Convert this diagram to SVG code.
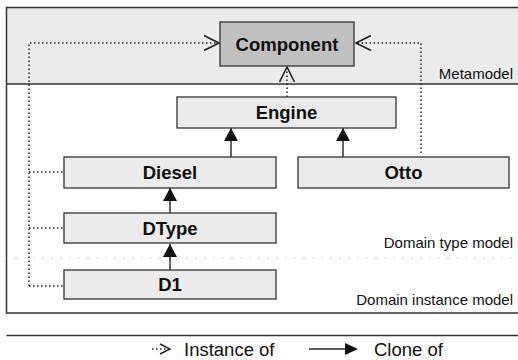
<svg xmlns="http://www.w3.org/2000/svg" width="518" height="360" viewBox="0 0 518 360">
<style>
.box{fill:#ebebeb;stroke:#333;stroke-width:1.3}
.comp{fill:#c0c0c0;stroke:#333;stroke-width:1.3}
.lbl{font-family:"Liberation Sans",Arial,sans-serif;font-weight:bold;font-size:18.5px;fill:#111;text-anchor:middle}
.side{font-family:"Liberation Sans",Arial,sans-serif;font-size:15px;fill:#111;text-anchor:end}
.leg{font-family:"Liberation Sans",Arial,sans-serif;font-size:18.5px;fill:#111}
.inst{fill:none;stroke:#222;stroke-width:1.5;stroke-dasharray:1.5 2.5}
.clone{fill:none;stroke:#222;stroke-width:1.4}
.frame{fill:none;stroke:#333;stroke-width:1.5}
</style>
<defs>
<marker id="open" markerUnits="userSpaceOnUse" markerWidth="18" markerHeight="18" refX="15" refY="8" orient="auto" viewBox="0 0 18 18">
<path d="M0,0.5 L15,8 L0,15.5" fill="none" stroke="#222" stroke-width="1.6"/>
</marker>
<marker id="filled" markerUnits="userSpaceOnUse" markerWidth="16" markerHeight="16" refX="13" refY="7" orient="auto" viewBox="0 0 16 16">
<path d="M0,0 L13,7 L0,14 z" fill="#111"/>
</marker>
</defs>
<rect x="6.5" y="7.5" width="512" height="76.5" fill="#ebebeb"/>
<path class="frame" d="M518,7.5 H6.5 V313 H518"/>
<line x1="6.5" y1="84" x2="518" y2="84" stroke="#333" stroke-width="1.5"/>
<line x1="6.5" y1="258" x2="518" y2="258" stroke="#aaa" stroke-width="1" stroke-dasharray="1 8"/>
<text class="side" x="513" y="79">Metamodel</text>
<text class="side" x="513" y="248">Domain type model</text>
<text class="side" x="513" y="305">Domain instance model</text>
<g id="connectors">
<polyline class="inst" points="29,286 29,43 219,43" marker-end="url(#open)"/>
<line class="inst" x1="29" y1="172" x2="64" y2="172"/>
<line class="inst" x1="29" y1="228" x2="64" y2="228"/>
<line class="inst" x1="29" y1="286" x2="64" y2="286"/>
<polyline class="inst" points="421,153 421,43 356,43" marker-end="url(#open)"/>
<line class="inst" x1="287" y1="97" x2="287" y2="67" marker-end="url(#open)"/>
<line class="clone" x1="231" y1="157" x2="231" y2="128" marker-end="url(#filled)"/>
<line class="clone" x1="343" y1="157" x2="343" y2="128" marker-end="url(#filled)"/>
<line class="clone" x1="170" y1="213" x2="170" y2="188" marker-end="url(#filled)"/>
<line class="clone" x1="170" y1="270" x2="170" y2="244" marker-end="url(#filled)"/>
</g>
<g id="component"><rect class="comp" x="220" y="22" width="134" height="44"/><text class="lbl" x="287" y="50.5">Component</text></g>
<g id="engine"><rect class="box" x="177" y="97" width="219" height="31"/><text class="lbl" x="286.5" y="119">Engine</text></g>
<g id="diesel"><rect class="box" x="64" y="157" width="212" height="31"/><text class="lbl" x="170" y="179">Diesel</text></g>
<g id="otto"><rect class="box" x="298" y="157" width="211" height="31"/><text class="lbl" x="403.5" y="179">Otto</text></g>
<g id="dtype"><rect class="box" x="64" y="213" width="212" height="30"/><text class="lbl" x="170" y="234.5">DType</text></g>
<g id="d1"><rect class="box" x="64" y="270" width="212" height="29"/><text class="lbl" x="170" y="291">D1</text></g>
<g id="legend">
<line x1="6.5" y1="335.5" x2="518" y2="335.5" stroke="#333" stroke-width="1.5"/>
<line class="inst" x1="152" y1="349" x2="169" y2="349"/>
<path d="M160,344 L170,349 L160,354" fill="none" stroke="#222" stroke-width="1.4"/>
<text class="leg" x="184" y="355.5">Instance of</text>
<line class="clone" x1="309" y1="349" x2="346" y2="349"/>
<path d="M345,343 L358,349 L345,355 z" fill="#111"/>
<text class="leg" x="374" y="355.5">Clone of</text>
</g>
</svg>
